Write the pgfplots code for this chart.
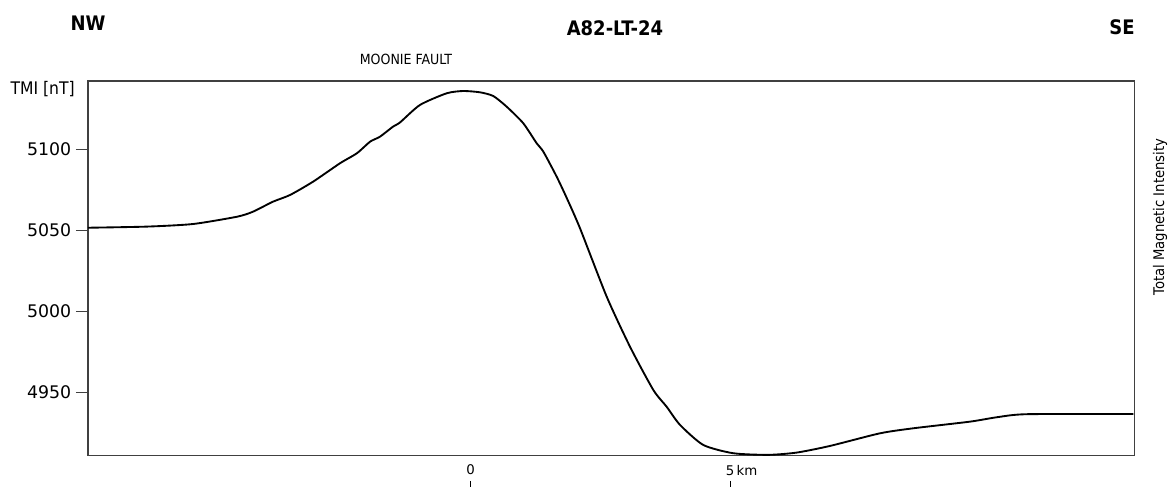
\documentclass[border=0pt]{standalone}
\usepackage{pgfplots}
\pgfplotsset{compat=1.18}
\usepackage{fontspec}
\setmainfont{DejaVu Sans}
\newfontfamily\condf{DejaVu Sans Condensed}
\begin{document}
\begin{tikzpicture}
\useasboundingbox (-66pt,-22.875pt) rectangle (813.75pt,341.625pt);
\begin{axis}[
  at={(0,0)}, anchor=south west,
  scale only axis, width=785pt, height=280.9pt,
  xmin=-7.374, xmax=12.794, ymin=4910.9, ymax=5142.1,
  axis line style={black!75, line width=1pt},
  xtick={0,5}, xticklabels={0, 5\rlap{\,km}},
  xtick style={draw=none},
  xticklabel style={font=\fontsize{10pt}{12pt}\selectfont, yshift=-3.5pt},
  ytick={4950,5000,5050,5100},
  ytick pos=left, ytick align=outside,
  major tick length=9pt,
  ytick style={black!75, line width=0.8pt},
  yticklabel style={font=\fontsize{13pt}{15pt}\selectfont},
  /pgf/number format/assume math mode=true,
  /pgf/number format/1000 sep={},
  clip=false,
]
\addplot[black, line width=1.4pt, smooth, tension=0.4] coordinates {
(-7.374,5051.5) (-6.237,5052.2) (-5.351,5053.8) (-4.503,5058.3) (-4.195,5061.4)
(-3.809,5067.6) (-3.482,5071.7) (-3.039,5079.9) (-2.518,5091.3) (-2.191,5097.5)
(-1.940,5104.6) (-1.748,5107.7) (-1.497,5113.9) (-1.362,5116.5) (-0.977,5127.3)
(-0.462,5134.5) (-0.143,5135.9) (0.179,5135.1) (0.435,5132.8) (0.694,5126.2)
(1.013,5116.0) (1.272,5103.6) (1.399,5098.5) (1.657,5083.0) (1.850,5069.9)
(2.106,5051.2) (2.620,5009.0) (3.069,4978.1) (3.518,4951.4) (3.776,4941.0)
(4.033,4929.8) (4.482,4917.4) (5.060,4912.3) (5.734,4911.3) (6.281,4912.7)
(6.923,4916.8) (7.886,4924.6) (8.528,4927.7) (9.620,4931.8) (10.135,4934.5)
(10.713,4936.4) (12.767,4936.5)
};
\draw[black, line width=1pt] ([yshift=-19pt]axis cs:0,4910.9) -- ([yshift=-24pt]axis cs:0,4910.9);
\draw[black, line width=1pt] ([yshift=-19pt]axis cs:5,4910.9) -- ([yshift=-24pt]axis cs:5,4910.9);
\end{axis}
\begin{scope}[x=0.75pt, y=-0.75pt, shift={(-66pt,341.625pt)}]
\node[font=\condf\bfseries\fontsize{15pt}{17pt}\selectfont] at (88,23) {NW};
\node[font=\condf\bfseries\fontsize{15pt}{17pt}\selectfont] at (615,28) {A82-LT-24};
\node[font=\condf\bfseries\fontsize{15pt}{17pt}\selectfont] at (1122,27) {SE};
\node[font=\condf\fontsize{10.5pt}{12pt}\selectfont] at (406,59) {MOONIE FAULT};
\node[font=\condf\fontsize{13pt}{15pt}\selectfont, anchor=east, inner sep=0pt] at (75,89) {TMI [nT]};
\node[font=\condf\fontsize{11pt}{13pt}\selectfont, rotate=90] at (1160,217) {Total Magnetic Intensity};
\end{scope}
\end{tikzpicture}
\end{document}
